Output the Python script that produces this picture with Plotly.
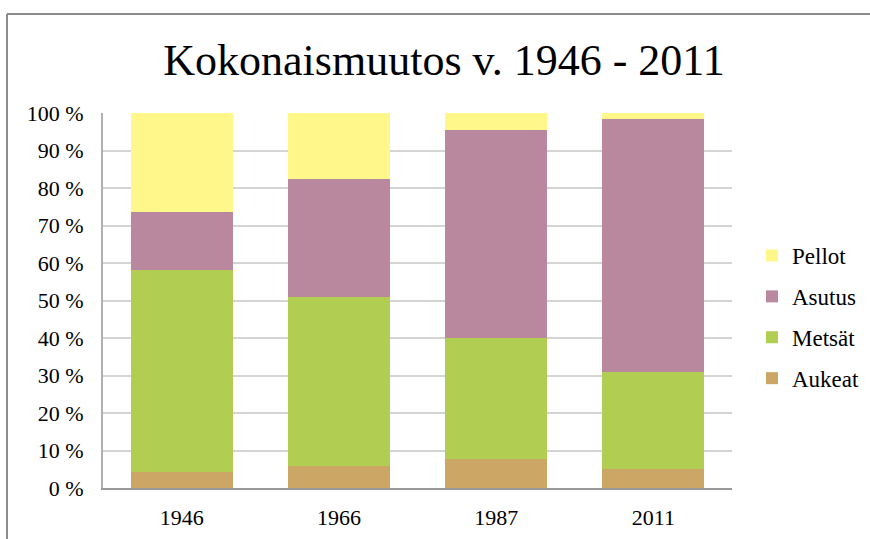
import plotly.graph_objects as go

years = ["1946", "1966", "1987", "2011"]
aukeat = [4.4, 5.9, 7.7, 5.0]
metsat = [53.7, 45.0, 32.2, 25.9]
asutus = [15.6, 31.6, 55.5, 67.4]
pellot = [26.3, 17.5, 4.6, 1.7]

series = [
    ("Aukeat", aukeat, "#CBA664", 4),
    ("Metsät", metsat, "#B1CE52", 3),
    ("Asutus", asutus, "#B9889E", 2),
    ("Pellot", pellot, "#FFF78A", 1),
]

tick_vals = [0, 10, 20, 30, 40, 50, 60, 70, 80, 90, 100]
tick_text = [f"{v} %" for v in tick_vals]

SERIF = "Times New Roman, Liberation Serif, serif"
W, H = 870, 539
L, R, T, B = 103, 138, 113, 51
pw, ph = W - L - R, H - T - B

fig = go.Figure()
for i, (name, vals, col, rank) in enumerate(series):
    fig.add_trace(go.Bar(
        x=years, y=vals, name=name, marker_color=col,
        marker_line_width=0, legendgroup=f"g{i}", legendrank=rank,
    ))

def px_x(p):
    return (p - L) / pw

def px_y(p):
    return (H - B - p) / ph

fig.update_layout(
    width=W, height=H,
    margin=dict(l=L, r=R, t=T, b=B, autoexpand=False),
    barmode="stack", bargap=0.35,
    plot_bgcolor="white", paper_bgcolor="white",
    font=dict(family=SERIF, size=22, color="black"),
    title=dict(text="Kokonaismuutos v. 1946 - 2011", x=(444 - L) / pw, xref="paper",
               xanchor="center", y=1 - 60 / H, yanchor="middle",
               font=dict(family=SERIF, size=44, color="black")),
    xaxis=dict(showgrid=False, showline=True, linecolor="#9a9a9a", linewidth=2,
               ticks="outside", ticklen=9, tickcolor="rgba(0,0,0,0)",
               tickfont=dict(family=SERIF, size=22), automargin=False),
    yaxis=dict(range=[0, 100], tickvals=tick_vals, ticktext=tick_text,
               showgrid=True, gridcolor="#d4d4d4", gridwidth=2,
               showline=True, linecolor="#b0b0b0", linewidth=2,
               ticks="outside", ticklen=13, tickcolor="rgba(0,0,0,0)",
               tickfont=dict(family=SERIF, size=22), zeroline=False,
               automargin=False),
    legend=dict(x=px_x(752), y=px_y(234), xanchor="left", yanchor="top",
                traceorder="grouped", tracegroupgap=8, itemwidth=30,
                font=dict(family=SERIF, size=23), bgcolor="rgba(0,0,0,0)"),
    shapes=[
        dict(type="line", xref="paper", yref="paper",
             x0=px_x(7), x1=px_x(W + 5), y0=px_y(14), y1=px_y(14),
             line=dict(color="#8c8c8c", width=2)),
        dict(type="line", xref="paper", yref="paper",
             x0=px_x(7), x1=px_x(7), y0=px_y(14), y1=px_y(H + 5),
             line=dict(color="#8c8c8c", width=2)),
    ],
)

fig.write_html("out.html", config={"displayModeBar": False},
               post_script="document.body.style.margin='0';")
